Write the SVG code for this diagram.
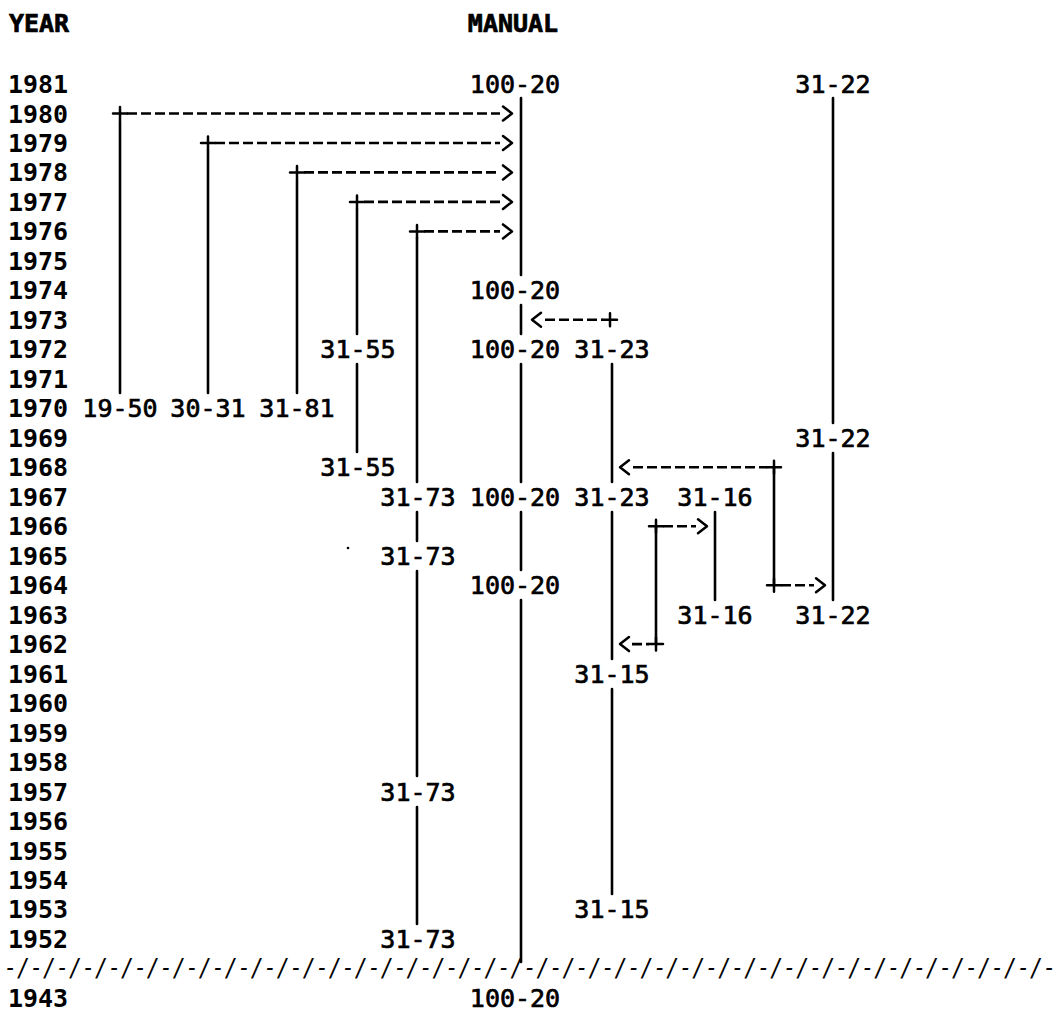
<svg xmlns="http://www.w3.org/2000/svg" width="1064" height="1015" viewBox="0 0 1064 1015">
<style>
text { font-family: "DejaVu Sans Mono", "Liberation Mono", monospace; font-size: 25px; fill: #000; }
.hd { font-weight: bold; stroke: #000; stroke-width: 0.7; text-anchor: middle; }
.yr { font-weight: bold; text-anchor: middle; }
.lb { text-anchor: middle; stroke: #000; stroke-width: 0.7; }
.sep { font-style: italic; }
.v { stroke: #000; stroke-width: 2.6; fill: none; stroke-linecap: round; }
.d { stroke: #000; stroke-width: 2.6; fill: none; stroke-dasharray: 10 4; }
.h { stroke: #000; stroke-width: 2.5; fill: none; stroke-linejoin: round; stroke-linecap: round; }
</style>
<rect width="1064" height="1015" fill="#fff"/>

<g id="header">
<text class="hd" x="39" y="32">YEAR</text>
<text class="hd" x="513" y="32">MANUAL</text>
</g>

<g id="years">
<text class="yr" x="38" y="93">1981</text>
<text class="yr" x="38" y="122.5">1980</text>
<text class="yr" x="38" y="152">1979</text>
<text class="yr" x="38" y="181.4">1978</text>
<text class="yr" x="38" y="210.9">1977</text>
<text class="yr" x="38" y="240.4">1976</text>
<text class="yr" x="38" y="269.9">1975</text>
<text class="yr" x="38" y="299.4">1974</text>
<text class="yr" x="38" y="328.8">1973</text>
<text class="yr" x="38" y="358.3">1972</text>
<text class="yr" x="38" y="387.8">1971</text>
<text class="yr" x="38" y="417.3">1970</text>
<text class="yr" x="38" y="446.8">1969</text>
<text class="yr" x="38" y="476.2">1968</text>
<text class="yr" x="38" y="505.7">1967</text>
<text class="yr" x="38" y="535.2">1966</text>
<text class="yr" x="38" y="564.7">1965</text>
<text class="yr" x="38" y="594.2">1964</text>
<text class="yr" x="38" y="623.6">1963</text>
<text class="yr" x="38" y="653.1">1962</text>
<text class="yr" x="38" y="682.6">1961</text>
<text class="yr" x="38" y="712.1">1960</text>
<text class="yr" x="38" y="741.6">1959</text>
<text class="yr" x="38" y="771">1958</text>
<text class="yr" x="38" y="800.5">1957</text>
<text class="yr" x="38" y="830">1956</text>
<text class="yr" x="38" y="859.5">1955</text>
<text class="yr" x="38" y="889">1954</text>
<text class="yr" x="38" y="918.4">1953</text>
<text class="yr" x="38" y="947.9">1952</text>
<text class="yr" x="38" y="1006.9">1943</text>
</g>

<g id="separator">
<text class="sep" x="4" y="976" textLength="1052" lengthAdjust="spacingAndGlyphs">-/-/-/-/-/-/-/-/-/-/-/-/-/-/-/-/-/-/-/-/-/-/-/-/-/-/-/-/-/-/-/-/-/-/-/-/-/-/-/-/-</text>
</g>

<g id="connectors">
<line class="v" x1="120" y1="121" x2="120" y2="393"/>
<line class="v" x1="208" y1="150" x2="208" y2="393"/>
<line class="v" x1="297" y1="180" x2="297" y2="393"/>
<line class="v" x1="357" y1="209" x2="357" y2="334"/>
<line class="v" x1="357" y1="364" x2="357" y2="452"/>
<line class="v" x1="417" y1="238" x2="417" y2="482"/>
<line class="v" x1="417" y1="512" x2="417" y2="541"/>
<line class="v" x1="417" y1="571" x2="417" y2="776"/>
<line class="v" x1="417" y1="807" x2="417" y2="924"/>
<line class="v" x1="521" y1="98" x2="521" y2="275"/>
<line class="v" x1="521" y1="305" x2="521" y2="334"/>
<line class="v" x1="521" y1="364" x2="521" y2="482"/>
<line class="v" x1="521" y1="512" x2="521" y2="570"/>
<line class="v" x1="521" y1="600" x2="521" y2="962"/>
<line class="v" x1="612" y1="364" x2="612" y2="482"/>
<line class="v" x1="612" y1="512" x2="612" y2="659"/>
<line class="v" x1="612" y1="689" x2="612" y2="894"/>
<line class="v" x1="656" y1="526" x2="656" y2="644"/>
<line class="v" x1="715" y1="512" x2="715" y2="600"/>
<line class="v" x1="774" y1="467" x2="774" y2="585"/>
<line class="v" x1="833" y1="98" x2="833" y2="423"/>
<line class="v" x1="833" y1="453" x2="833" y2="600"/>

<g id="arrow-1980">
<path class="h" d="M113 113.5 H127 M120 107 V120"/>
<line class="d" x1="127" y1="113.5" x2="500" y2="113.5"/>
<polyline class="h" points="503,106.5 512,113.5 503,120.5"/>
</g>
<g id="arrow-1979">
<path class="h" d="M201 143 H215 M208 136.5 V149.5"/>
<line class="d" x1="215" y1="143" x2="500" y2="143"/>
<polyline class="h" points="503,136 512,143 503,150"/>
</g>
<g id="arrow-1978">
<path class="h" d="M290 172.4 H304 M297 166 V179"/>
<line class="d" x1="304" y1="172.4" x2="500" y2="172.4"/>
<polyline class="h" points="503,165.4 512,172.4 503,179.4"/>
</g>
<g id="arrow-1977">
<path class="h" d="M350 201.9 H364 M357 195.4 V208.4"/>
<line class="d" x1="364" y1="201.9" x2="500" y2="201.9"/>
<polyline class="h" points="503,194.9 512,201.9 503,208.9"/>
</g>
<g id="arrow-1976">
<path class="h" d="M410 231.4 H424 M417 225 V238"/>
<line class="d" x1="424" y1="231.4" x2="500" y2="231.4"/>
<polyline class="h" points="503,224.4 512,231.4 503,238.4"/>
</g>
<g id="arrow-1973">
<polyline class="h" points="541,312.8 532,319.8 541,326.8"/>
<line class="d" x1="545" y1="319.8" x2="603" y2="319.8"/>
<path class="h" d="M603 319.8 H617 M610 313.3 V326.3"/>
</g>
<g id="arrow-1968">
<polyline class="h" points="629,460.2 620,467.2 629,474.2"/>
<line class="d" x1="633" y1="467.2" x2="767" y2="467.2"/>
<path class="h" d="M767 467.2 H781 M774 460.7 V473.7"/>
</g>
<g id="arrow-1966">
<path class="h" d="M649 526.2 H663 M656 519.7 V532.7"/>
<line class="d" x1="663" y1="526.2" x2="696" y2="526.2"/>
<polyline class="h" points="698,519.2 707,526.2 698,533.2"/>
</g>
<g id="arrow-1964">
<path class="h" d="M767 585.2 H781 M774 578.7 V591.7"/>
<line class="d" x1="781" y1="585.2" x2="814" y2="585.2"/>
<polyline class="h" points="816,578.2 825,585.2 816,592.2"/>
</g>
<g id="arrow-1962">
<polyline class="h" points="629,637.1 620,644.1 629,651.1"/>
<line class="d" x1="632" y1="644.1" x2="649" y2="644.1"/>
<path class="h" d="M649 644.1 H663 M656 637.6 V650.6"/>
</g>
</g>

<g id="node-100-20-1981"><text class="lb" x="515" y="93">100-20</text></g>
<g id="node-31-22-1981"><text class="lb" x="833" y="93">31-22</text></g>
<g id="node-100-20-1974"><text class="lb" x="515" y="299.4">100-20</text></g>
<g id="node-31-55-1972"><text class="lb" x="358" y="358.3">31-55</text></g>
<g id="node-100-20-1972"><text class="lb" x="515" y="358.3">100-20</text></g>
<g id="node-31-23-1972"><text class="lb" x="612" y="358.3">31-23</text></g>
<g id="node-19-50-1970"><text class="lb" x="120" y="417.3">19-50</text></g>
<g id="node-30-31-1970"><text class="lb" x="208" y="417.3">30-31</text></g>
<g id="node-31-81-1970"><text class="lb" x="297" y="417.3">31-81</text></g>
<g id="node-31-22-1969"><text class="lb" x="833" y="446.8">31-22</text></g>
<g id="node-31-55-1968"><text class="lb" x="358" y="476.2">31-55</text></g>
<g id="node-31-73-1967"><text class="lb" x="418" y="505.7">31-73</text></g>
<g id="node-100-20-1967"><text class="lb" x="515" y="505.7">100-20</text></g>
<g id="node-31-23-1967"><text class="lb" x="612" y="505.7">31-23</text></g>
<g id="node-31-16-1967"><text class="lb" x="715" y="505.7">31-16</text></g>
<g id="node-31-73-1965"><text class="lb" x="418" y="564.7">31-73</text></g>
<g id="node-100-20-1964"><text class="lb" x="515" y="594.2">100-20</text></g>
<g id="node-31-16-1963"><text class="lb" x="715" y="623.6">31-16</text></g>
<g id="node-31-22-1963"><text class="lb" x="833" y="623.6">31-22</text></g>
<g id="node-31-15-1961"><text class="lb" x="612" y="682.6">31-15</text></g>
<g id="node-31-73-1957"><text class="lb" x="418" y="800.5">31-73</text></g>
<g id="node-31-15-1953"><text class="lb" x="612" y="918.4">31-15</text></g>
<g id="node-31-73-1952"><text class="lb" x="418" y="947.9">31-73</text></g>
<g id="node-100-20-1943"><text class="lb" x="515" y="1006.9">100-20</text></g>

<circle cx="348" cy="548" r="1.3" fill="#000"/>
</svg>
